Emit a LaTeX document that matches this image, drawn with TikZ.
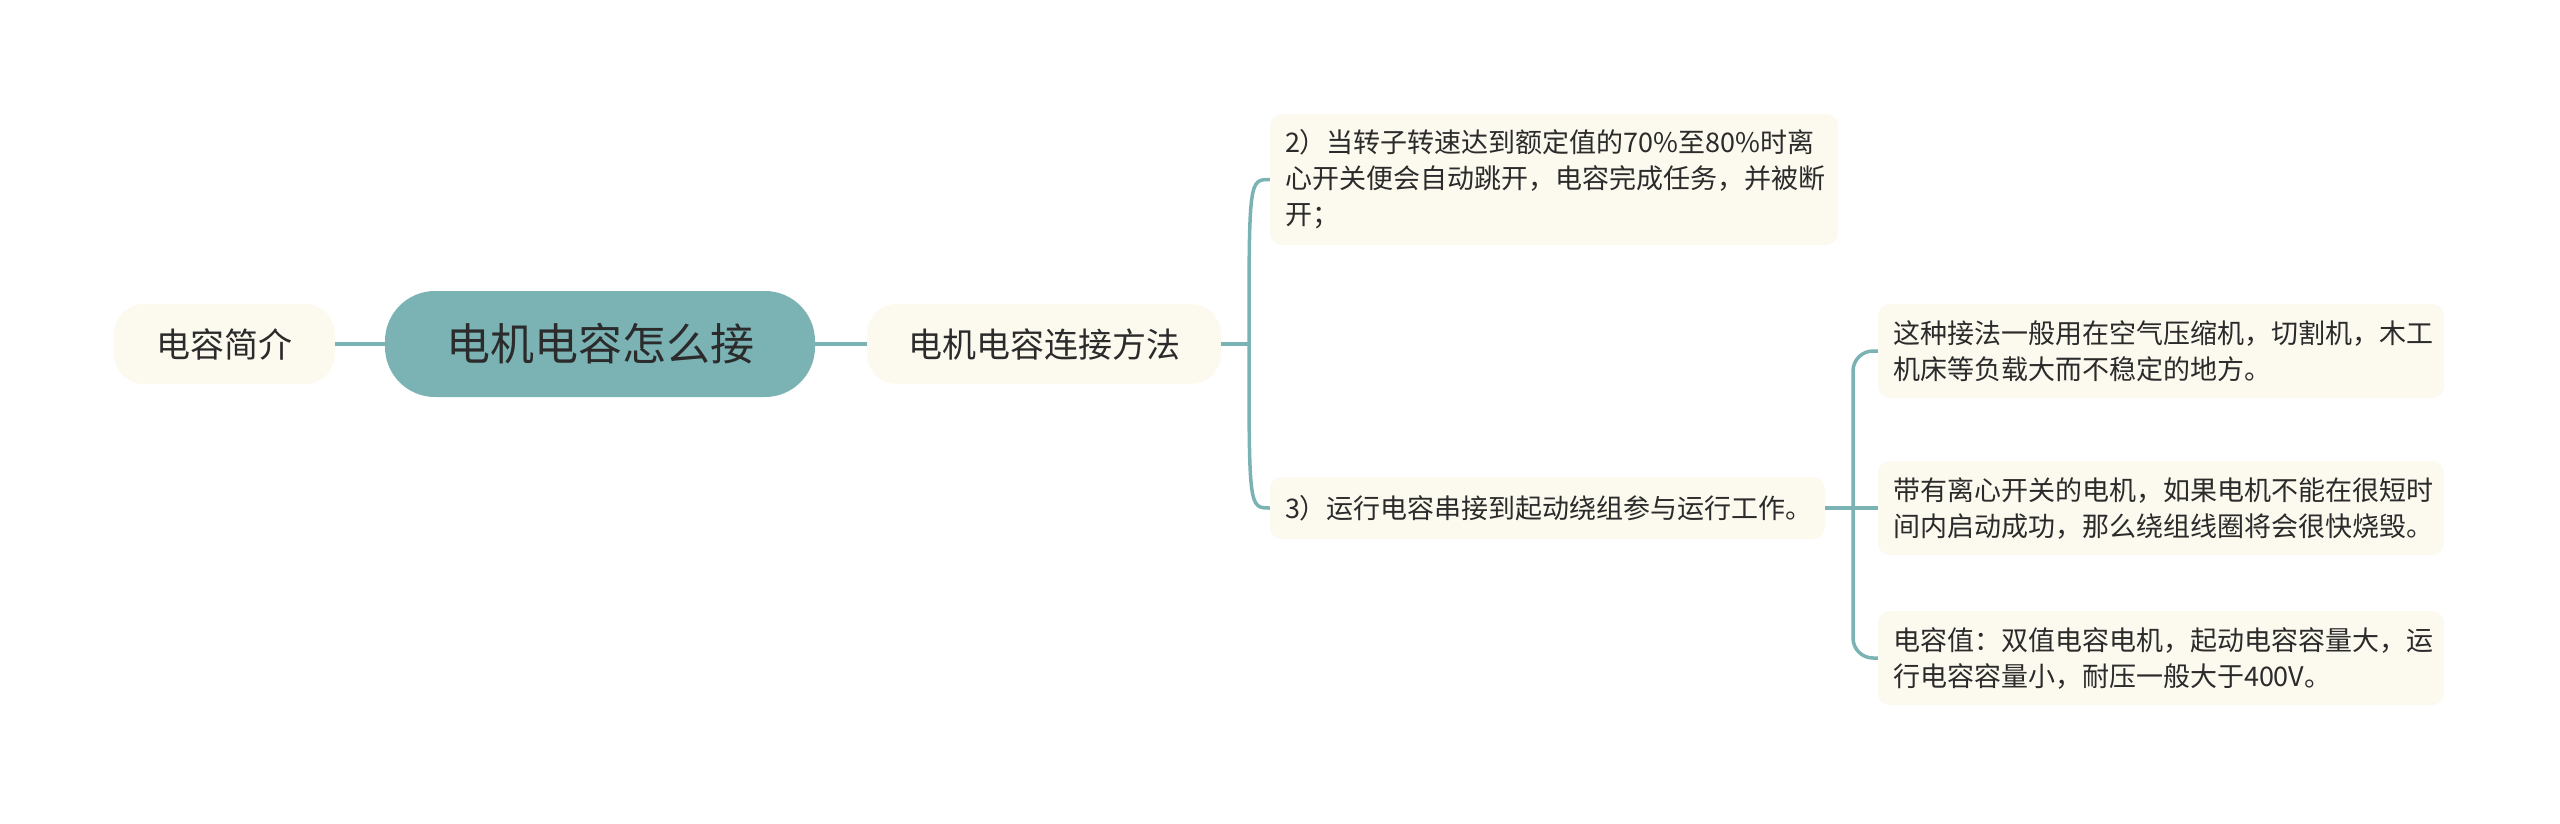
\documentclass[tikz,border=0pt]{standalone}
\usepackage{fontspec}
\newfontfamily\cjk{Noto Sans CJK SC}
\definecolor{tealc}{HTML}{7BB3B5}
\definecolor{creamc}{HTML}{FCF9EF}
\definecolor{txtc}{HTML}{2B2B2B}
\begin{document}
\begin{tikzpicture}[x=1pt,y=-1pt,
  conn/.style={draw=tealc, line width=3.5pt},
  rootbox/.style={fill=tealc, rounded corners=50pt, inner sep=0pt, text=txtc,
    font=\cjk\fontsize{44}{52}\selectfont},
  midbox/.style={fill=creamc, rounded corners=30pt, inner sep=0pt, text=txtc,
    font=\cjk\fontsize{34}{42}\selectfont},
  leafbox/.style={fill=creamc, rounded corners=12pt, inner xsep=15pt, inner ysep=0pt,
    align=left, text=txtc, font=\cjk\fontsize{27}{36}\selectfont}]
\useasboundingbox (0,0) rectangle (2560,823);
\fill[white] (0,0) rectangle (2560,823);

\node[midbox, minimum width=221pt, minimum height=80pt] (intro) at (224.5,344) {电容简介};
\node[rootbox, minimum width=430pt, minimum height=106pt] (root) at (600,344) {电机电容怎么接};
\node[midbox, minimum width=354pt, minimum height=80pt] (method) at (1044,344) {电机电容连接方法};

\node[leafbox, text width=538pt, minimum height=131pt] (s2) at (1554,179.5)
  {2）当转子转速达到额定值的70\%至80\%时离\\心开关便会自动跳开，电容完成任务，并被断\\开；};
\node[leafbox, text width=525pt, minimum height=62pt] (s3) at (1547.5,508)
  {3）运行电容串接到起动绕组参与运行工作。};

\node[leafbox, text width=536pt, minimum height=94pt] (a) at (2161,351)
  {这种接法一般用在空气压缩机，切割机，木工\\机床等负载大而不稳定的地方。};
\node[leafbox, text width=536pt, minimum height=94pt] (b) at (2161,508)
  {带有离心开关的电机，如果电机不能在很短时\\间内启动成功，那么绕组线圈将会很快烧毁。};
\node[leafbox, text width=536pt, minimum height=94pt] (c) at (2161,658)
  {电容值：双值电容电机，起动电容容量大，运\\行电容容量小，耐压一般大于400V。};

\draw[conn] (intro.east) -- (root.west);
\draw[conn] (root.east) -- (method.west);

\coordinate (j1) at (1249,344);
\draw[conn] (method.east) -- (j1);
\draw[conn] (j1) .. controls (1249,179.5) and (1249,179.5) .. (s2.west);
\draw[conn] (j1) .. controls (1249,508) and (1249,508) .. (s3.west);

\coordinate (j2) at (1853,508);
\draw[conn] (s3.east) -- (b.west);
\draw[conn, rounded corners=20pt] (j2) |- (a.west);
\draw[conn, rounded corners=20pt] (j2) |- (c.west);
\end{tikzpicture}
\end{document}
